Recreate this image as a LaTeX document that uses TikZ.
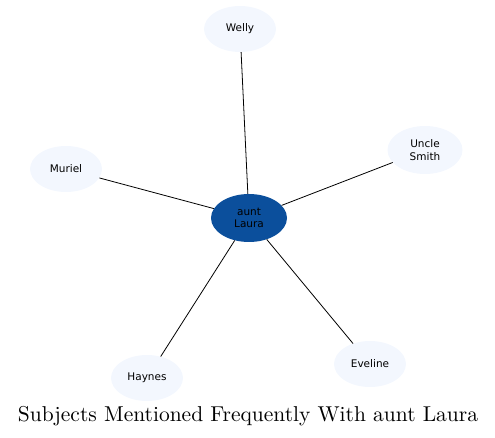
\documentclass[tikz,border=0pt]{standalone}
\usepackage{fontspec}
\setmainfont{Latin Modern Roman}
\newfontfamily\titlefont{lmroman10-regular.otf}
\newfontfamily\labelfont{DejaVu Sans}
\usetikzlibrary{shapes.geometric}
\definecolor{centerblue}{HTML}{0B4F9C}
\definecolor{leaffill}{HTML}{F3F7FE}
\tikzset{
  leaf/.style={ellipse, fill=leaffill, draw=none, minimum width=72pt, minimum height=46pt, inner sep=0pt, align=center, font=\labelfont\fontsize{10.5}{12.5}\selectfont},
  hub/.style={ellipse, fill=centerblue, draw=none, minimum width=76pt, minimum height=48pt, inner sep=0pt, align=center, font=\labelfont\fontsize{10.5}{12.5}\selectfont},
  link/.style={draw=black, line width=0.8pt}
}
\begin{document}
\begin{tikzpicture}[x=1pt,y=-1pt]
\useasboundingbox (0,0) rectangle (495,438);
\node[hub] (c) at (249,218) {aunt\\Laura};
\node[leaf] (w) at (240,29) {Welly};
\node[leaf, minimum width=75pt, minimum height=48pt] (u) at (425,150) {Uncle\\Smith};
\node[leaf] (m) at (66,169) {Muriel};
\node[leaf] (h) at (147,378) {Haynes};
\node[leaf] (e) at (370,364) {Eveline};
\draw[link] (c) -- (w);
\draw[link] (c) -- (u);
\draw[link] (c) -- (m);
\draw[link] (c) -- (h);
\draw[link] (c) -- (e);
\node[font=\titlefont\fontsize{21.5}{25}\selectfont] (t) at (248,416) {Subjects Mentioned Frequently With aunt Laura};
\end{tikzpicture}
\end{document}
